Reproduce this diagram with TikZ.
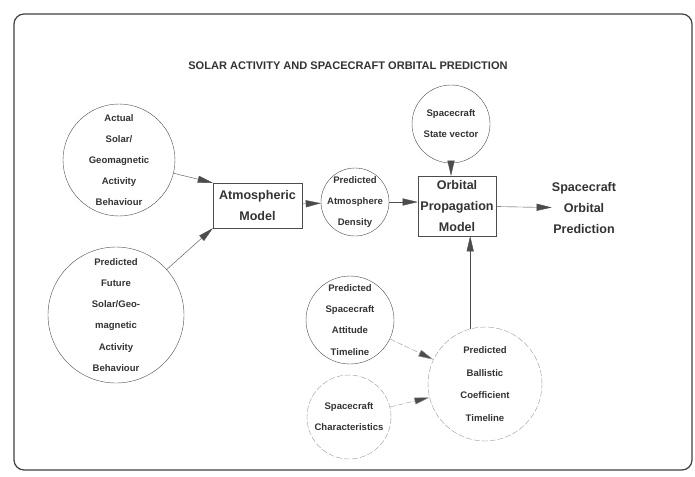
\documentclass[tikz,border=0pt]{standalone}
\usepackage{fontspec}
\setmainfont{Liberation Sans}
\usetikzlibrary{arrows.meta}

\begin{document}
\begin{tikzpicture}[x=0.035cm,y=-0.035cm,
bubble/.style={circle,draw=black!70,thin,inner sep=-20pt,align=center,text=black!80,font=\bfseries\fontsize{9.5}{21}\selectfont},
faint/.style={draw=black!40,dash pattern=on 6pt off 2pt},
block/.style={rectangle,draw=black!70,thin,inner sep=0pt,align=center,text=black!80,font=\bfseries\fontsize{12.5}{21}\selectfont},
flow/.style={draw=black!70,thin,-{Triangle[length=15pt,width=7pt,fill=black!70]}}]
%
\useasboundingbox (0,0) rectangle (695,476);
\draw[line width=1.2pt,draw=black!75,rounded corners=10pt] (14,14) rectangle (692,470);
\node[text=black!80,font=\bfseries\fontsize{11}{13}\selectfont] (title) at (348,66) {SOLAR ACTIVITY AND SPACECRAFT ORBITAL PREDICTION};

% inputs
\node[bubble,minimum size=3.92cm] (actual) at (119,160) {Actual\\Solar/\\Geomagnetic\\Activity\\Behaviour};
\node[bubble,minimum size=4.76cm] (future) at (116,315) {Predicted\\Future\\Solar/Geo-\\magnetic\\Activity\\Behaviour};
\node[block,minimum width=3.115cm,minimum height=1.575cm] (atmos) at (257.5,205.5) {Atmospheric\\Model};
\node[bubble,minimum size=2.38cm] (density) at (355,202) {Predicted\\Atmosphere\\Density};

% propagation
\node[block,minimum width=2.73cm,minimum height=2.1cm] (orbital) at (457,206) {Orbital\\Propagation\\Model};
\node[bubble,minimum size=2.73cm] (state) at (451,124) {Spacecraft\\State vector};
\node[block,draw=none] (pred) at (584,208) {Spacecraft\\Orbital\\Prediction};

% ballistic coefficient
\node[bubble,minimum size=3.08cm] (attitude) at (350,320) {Predicted\\Spacecraft\\Attitude\\Timeline};
\node[bubble,faint,minimum size=2.94cm] (charac) at (349,417) {Spacecraft\\Characteristics};
\node[bubble,faint,minimum size=3.99cm,font=\bfseries\fontsize{9.5}{22.5}\selectfont] (ballistic) at (485,384) {Predicted\\Ballistic\\Coefficient\\Timeline};

% arrows
\draw[flow] (actual) -- (atmos.north west);
\draw[flow] (future) -- (atmos.south west);
\draw[flow] (atmos) -- (density);
\draw[flow] (density.east) -- (density.east -| orbital.west);
\draw[flow] (state) -- (state |- orbital.north);
\draw[flow] (orbital) -- (pred);
\draw[flow] (ballistic.105) -- (ballistic.105 |- orbital.south);
\draw[flow,faint] (attitude) -- (ballistic);
\draw[flow,faint] (charac) -- (ballistic);
\end{tikzpicture}
\end{document}
